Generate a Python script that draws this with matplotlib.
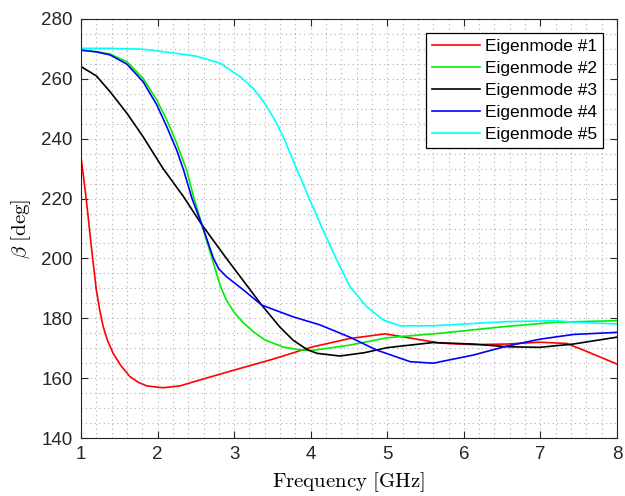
import numpy as np
import matplotlib.pyplot as plt
from matplotlib.ticker import MultipleLocator

plt.rcParams['mathtext.fontset'] = 'cm'
plt.rcParams['font.family'] = 'Liberation Sans'

# Eigenmode phase (deg) vs frequency (GHz)
f1 = [1.0, 1.07, 1.14, 1.2, 1.25, 1.29, 1.35, 1.42, 1.52, 1.64, 1.75, 1.86, 2.07, 2.29,
      2.5, 3.0, 3.5, 4.0, 4.5, 4.97, 5.3, 5.69, 6.12, 6.56, 6.99, 7.34, 7.56, 8.0]
b1 = [234, 219.5, 202.8, 189.5, 182.0, 177.2, 172.3, 168.3, 164.2, 160.5, 158.6, 157.4,
      156.8, 157.4, 159.0, 162.7, 166.3, 170.3, 173.2, 174.8, 173.4, 171.7, 171.2, 171.4,
      172.0, 171.6, 169.4, 164.7]

f2 = [1.0, 1.2, 1.38, 1.6, 1.81, 1.99, 2.12, 2.25, 2.38, 2.47, 2.58, 2.73, 2.82, 2.9,
      3.0, 3.12, 3.25, 3.4, 3.64, 3.85, 4.0, 4.5, 5.0, 5.69, 6.56, 7.21, 8.0]
b2 = [269.6, 269.1, 268.3, 265.7, 260.2, 252.9, 246.3, 238.5, 229.5, 220.6, 211.2,
      198.4, 190.8, 186.0, 182.0, 178.5, 175.5, 172.8, 170.4, 169.5, 169.2, 171.0,
      173.5, 175.0, 177.3, 178.7, 179.2]

f3 = [1.0, 1.2, 1.38, 1.6, 1.81, 2.07, 2.34, 2.58, 2.9, 3.36, 3.6, 3.77, 3.95, 4.08,
      4.38, 4.7, 5.0, 5.6, 6.12, 6.56, 6.99, 7.43, 8.0]
b3 = [264.1, 261.0, 255.7, 248.5, 240.7, 230.1, 220.6, 211.2, 200.0, 184.4, 177.0,
      172.7, 169.6, 168.3, 167.4, 168.5, 170.2, 171.9, 171.4, 170.5, 170.3, 171.4, 173.7]

f4 = [1.0, 1.2, 1.38, 1.6, 1.81, 1.99, 2.12, 2.25, 2.34, 2.45, 2.58, 2.73, 2.8, 2.9,
      3.12, 3.36, 3.77, 4.12, 4.51, 4.86, 5.3, 5.6, 6.12, 6.56, 6.99, 7.43, 8.0]
b4 = [269.6, 269.0, 268.0, 264.9, 259.1, 251.3, 244.0, 236.2, 229.5, 220.0, 211.2,
      200.0, 196.5, 193.9, 189.5, 184.4, 180.5, 177.8, 173.7, 169.4, 165.5, 165.0,
      167.7, 170.7, 173.0, 174.6, 175.3]

f5 = [1.0, 1.38, 1.81, 2.25, 2.5, 2.68, 2.82, 3.08, 3.25, 3.4, 3.52, 3.64, 3.82, 3.99,
      4.16, 4.34, 4.51, 4.73, 4.95, 5.17, 5.6, 5.95, 6.56, 7.21, 7.43, 8.0]
b5 = [270.2, 270.2, 269.9, 268.5, 267.6, 266.3, 265.2, 260.7, 256.8, 251.8, 246.8,
      240.7, 229.7, 219.5, 209.5, 199.5, 190.6, 183.9, 179.4, 177.5, 177.5, 178.0,
      178.9, 179.2, 178.7, 178.1]

labels = ['Eigenmode #1', 'Eigenmode #2', 'Eigenmode #3', 'Eigenmode #4', 'Eigenmode #5']
colors = ['#ff0000', '#00ee00', '#000000', '#0000ff', '#00ffff']

fig = plt.figure(figsize=(6.25, 4.96), dpi=100)
ax = fig.add_axes([0.1296, 0.1169, 0.8576, 0.8448])

for f, b, lab, c in zip([f1, f2, f3, f4, f5], [b1, b2, b3, b4, b5], labels, colors):
    ax.plot(f, b, color=c, lw=1.2, label=lab)

ax.set_xlim(1, 8)
ax.set_ylim(140, 280)
ax.xaxis.set_major_locator(MultipleLocator(1))
ax.xaxis.set_minor_locator(MultipleLocator(0.2))
ax.yaxis.set_major_locator(MultipleLocator(20))
ax.yaxis.set_minor_locator(MultipleLocator(5))
ax.grid(which='both', color='#b0b0b0', ls=(0, (1, 3)), lw=0.8)
ax.tick_params(which='major', direction='in', top=True, right=True, length=5,
               labelsize=13.5, color='#262626', labelcolor='#262626', pad=6)
ax.tick_params(which='minor', length=0)
for s in ax.spines.values():
    s.set_color('#262626')

ax.set_xlabel(r'$\mathrm{Frequency\ [GHz]}$', fontsize=15, labelpad=5)
ax.set_ylabel(r'$\beta\ \mathrm{[deg]}$', fontsize=15, labelpad=6)

leg = ax.legend(loc='upper right', fontsize=12.5, frameon=True, fancybox=False,
                edgecolor='black', framealpha=1, handlelength=2.75,
                borderaxespad=0.78, labelspacing=0.4, handletextpad=0.3, borderpad=0.35)
leg.get_frame().set_linewidth(0.9)

fig.savefig('out.png', dpi=100)
